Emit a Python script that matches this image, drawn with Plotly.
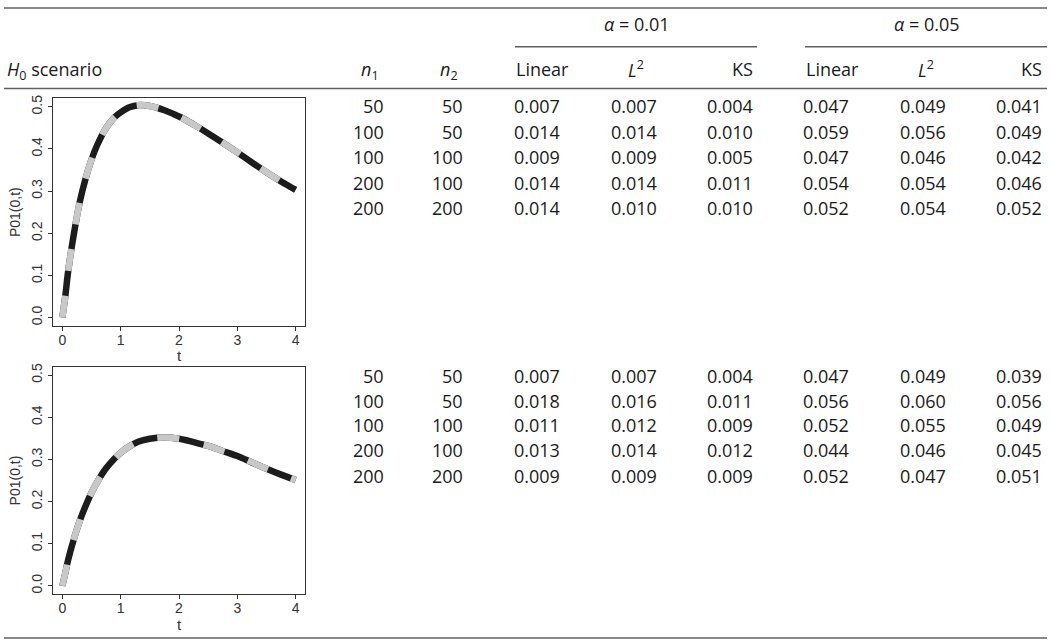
import plotly.graph_objects as go

# ---------------- data ----------------
t = [0, 0.05, 0.1, 0.2, 0.3, 0.4, 0.5, 0.6, 0.75, 0.9, 1.0, 1.15, 1.3, 1.5,
     1.75, 2.0, 2.25, 2.5, 2.75, 3.0, 3.25, 3.5, 3.75, 4.0]
p01_top = [0, 0.05, 0.11, 0.20, 0.275, 0.33, 0.375, 0.41, 0.45, 0.476, 0.487,
           0.499, 0.504, 0.502, 0.492, 0.477, 0.458, 0.437, 0.415, 0.392,
           0.368, 0.345, 0.323, 0.303]
p01_bot = [0, 0.03, 0.062, 0.112, 0.155, 0.19, 0.221, 0.247, 0.279, 0.303,
           0.316, 0.331, 0.342, 0.349, 0.352, 0.349, 0.341, 0.332, 0.320,
           0.308, 0.293, 0.278, 0.264, 0.251]

y_ticks = [0.0, 0.1, 0.2, 0.3, 0.4, 0.5]
y_tick_labels = ["0.0", "0.1", "0.2", "0.3", "0.4", "0.5"]
x_ticks = [0, 1, 2, 3, 4]
x_tick_labels = ["0", "1", "2", "3", "4"]

n1 = [50, 100, 100, 200, 200]
n2 = [50, 50, 100, 100, 200]

# scenario 1
s1_lin_01 = [0.007, 0.014, 0.009, 0.014, 0.014]
s1_l2_01 = [0.007, 0.014, 0.009, 0.014, 0.010]
s1_ks_01 = [0.004, 0.010, 0.005, 0.011, 0.010]
s1_lin_05 = [0.047, 0.059, 0.047, 0.054, 0.052]
s1_l2_05 = [0.049, 0.056, 0.046, 0.054, 0.054]
s1_ks_05 = [0.041, 0.049, 0.042, 0.046, 0.052]
# scenario 2
s2_lin_01 = [0.007, 0.018, 0.011, 0.013, 0.009]
s2_l2_01 = [0.007, 0.016, 0.012, 0.014, 0.009]
s2_ks_01 = [0.004, 0.011, 0.009, 0.012, 0.009]
s2_lin_05 = [0.047, 0.056, 0.052, 0.044, 0.052]
s2_l2_05 = [0.049, 0.060, 0.055, 0.046, 0.047]
s2_ks_05 = [0.039, 0.056, 0.049, 0.045, 0.051]

col_headers = ["Linear", "<i>L</i><sup>2</sup>", "KS", "Linear", "<i>L</i><sup>2</sup>", "KS"]
alpha_headers = ["<i>α</i> = 0.01", "<i>α</i> = 0.05"]

# ---------------- layout constants ----------------
W, H = 1050, 642
FONT = "Open Sans"
FS = 18
TXT = "#1a1a1a"
RULE = "#606060"
AX = "#333333"
AXFONT = "Liberation Sans"


def px(x):
    return x / W


def py(y):
    return 1 - y / H


fig = go.Figure()

plots = [
    (p01_top, "x", "y", (95, 324)),
    (p01_bot, "x2", "y2", (365, 594)),
]

for curve, xa, ya, _ in plots:
    fig.add_trace(go.Scatter(x=t, y=curve, mode="lines",
                             line=dict(color="#1c1c1c", width=6.5, shape="spline"),
                             xaxis=xa, yaxis=ya, showlegend=False, hoverinfo="skip"))
    fig.add_trace(go.Scatter(x=t, y=curve, mode="lines",
                             line=dict(color="#c8c8c8", width=6.5, shape="spline",
                                       dash="22px,25px"),
                             xaxis=xa, yaxis=ya, showlegend=False, hoverinfo="skip"))

axis_common = dict(showline=True, mirror=True, linecolor=AX, linewidth=1,
                   ticks="outside", ticklen=4, tickwidth=1, tickcolor=AX,
                   showgrid=False, zeroline=False)

ann = []

for i, (curve, xa, ya, (top, bot)) in enumerate(plots):
    sfx = "" if i == 0 else "2"
    fig.layout["xaxis" + sfx] = dict(
        axis_common, domain=[px(53), px(305)], anchor="y" + sfx,
        range=[-0.16, 4.16], tickvals=x_ticks, ticktext=x_tick_labels,
        tickfont=dict(family=AXFONT, size=14, color=AX),
        ticklabelstandoff=-3)
    fig.layout["yaxis" + sfx] = dict(
        axis_common, domain=[py(bot), py(top)], anchor="x" + sfx,
        range=[-0.02, 0.52], tickvals=y_ticks, ticktext=y_tick_labels,
        tickangle=-90,
        tickfont=dict(family=AXFONT, size=14, color=AX),
        title=dict(text="P01(0,t)", font=dict(family=AXFONT, size=14, color=AX),
                   standoff=5))
    # x-axis title placed just below the tick labels (R style)
    ann.append(dict(text="t", x=2, xref="x" + sfx, y=py(bot + 30), yref="paper",
                    xanchor="center", yanchor="middle", showarrow=False,
                    font=dict(family=AXFONT, size=15, color=AX)))


# ---------------- table text ----------------
def add(text, x, y, xanchor="right", size=FS):
    ann.append(dict(text=text, x=px(x), y=py(y), xref="paper", yref="paper",
                    xanchor=xanchor, yanchor="middle", showarrow=False,
                    font=dict(family=FONT, size=size, color=TXT)))


# header
add("<i>H</i><sub>0</sub> scenario", 5, 67, "left")
add("<i>n</i><sub>1</sub>", 370, 67, "center")
add("<i>n</i><sub>2</sub>", 449, 67, "center")
hdr_pos = [(542, "center"), (636, "center"), (755, "right"),
           (832, "center"), (926, "center"), (1044, "right")]
for h, (x, anc) in zip(col_headers, hdr_pos):
    add(h, x, 65, anc)
add(alpha_headers[0], 636, 20, "center")
add(alpha_headers[1], 926, 20, "center")

n_right = [386, 465]
val_right = [562, 659, 755, 851, 948, 1044]
rows_top = [103, 129, 154, 180, 205]
rows_bot = [374, 399, 424, 449, 475]

scen = [
    (rows_top, [s1_lin_01, s1_l2_01, s1_ks_01, s1_lin_05, s1_l2_05, s1_ks_05]),
    (rows_bot, [s2_lin_01, s2_l2_01, s2_ks_01, s2_lin_05, s2_l2_05, s2_ks_05]),
]
for rows, cols in scen:
    for r, y in enumerate(rows):
        add(str(n1[r]), n_right[0], y)
        add(str(n2[r]), n_right[1], y)
        for c, col in enumerate(cols):
            add(f"{col[r]:.3f}", val_right[c], y)

# ---------------- rules ----------------
shapes = []


def rule(x0, x1, y, w=1.5):
    shapes.append(dict(type="line", xref="paper", yref="paper",
                       x0=px(x0), x1=px(x1), y0=py(y), y1=py(y),
                       line=dict(color=RULE, width=w)))


rule(4, 1047, 4)
rule(515, 757, 43)
rule(805, 1047, 43)
rule(4, 1047, 85)
rule(4, 1047, 638)

fig.update_layout(width=W, height=H, margin=dict(l=0, r=0, t=0, b=0),
                  paper_bgcolor="white", plot_bgcolor="white",
                  annotations=ann, shapes=shapes, showlegend=False)

fig.write_html("out.html", config={"displayModeBar": False},
               post_script="document.body.style.margin='0';document.body.style.overflow='hidden';")
